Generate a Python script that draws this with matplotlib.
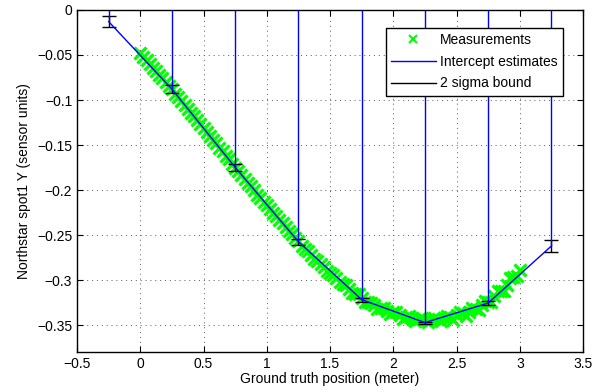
import matplotlib
matplotlib.use("Agg")
import matplotlib.pyplot as plt
from matplotlib.lines import Line2D

plt.rcParams["font.family"] = ["Liberation Sans", "DejaVu Sans"]
plt.rcParams["font.size"] = 10

# measurements (ground truth position vs. spot1 Y), two interleaved sweeps
meas_x = [0.00, 0.05, 0.10, 0.15, 0.20, 0.25, 0.30, 0.35, 0.40, 0.45,
          0.50, 0.55, 0.60, 0.65, 0.70, 0.75, 0.80, 0.85, 0.90, 0.95,
          1.00, 1.05, 1.10, 1.15, 1.20, 1.25, 1.30, 1.35, 1.40, 1.45,
          1.50, 1.55, 1.60, 1.65, 1.70, 1.75, 1.80, 1.85, 1.90, 1.95,
          2.00, 2.05, 2.10, 2.15, 2.20, 2.25, 2.30, 2.35, 2.40, 2.45,
          2.50, 2.55, 2.60, 2.65, 2.70, 2.75, 2.80, 2.85, 2.90, 2.95, 3.00]
meas_y = [-0.048, -0.056, -0.064, -0.072, -0.080, -0.088, -0.097, -0.105, -0.114, -0.122,
          -0.131, -0.140, -0.148, -0.157, -0.166, -0.175, -0.183, -0.192, -0.200, -0.209,
          -0.217, -0.225, -0.233, -0.241, -0.249, -0.257, -0.265, -0.272, -0.279, -0.286,
          -0.292, -0.298, -0.304, -0.310, -0.315, -0.320, -0.324, -0.328, -0.331, -0.334,
          -0.336, -0.339, -0.341, -0.342, -0.343, -0.344, -0.344, -0.343, -0.342, -0.341,
          -0.339, -0.337, -0.335, -0.332, -0.328, -0.324, -0.318, -0.312, -0.305, -0.297, -0.289]
meas2_x = [0.025, 0.075, 0.125, 0.175, 0.225, 0.275, 0.325, 0.375, 0.425, 0.475,
           0.525, 0.575, 0.625, 0.675, 0.725, 0.775, 0.825, 0.875, 0.925, 0.975,
           1.025, 1.075, 1.125, 1.175, 1.225, 1.275, 1.325, 1.375, 1.425, 1.475,
           1.525, 1.575, 1.625, 1.675, 1.725, 1.775, 1.825, 1.875, 1.925, 1.975,
           2.025, 2.075, 2.125, 2.175, 2.225, 2.275, 2.325, 2.375, 2.425, 2.475,
           2.525, 2.575, 2.625, 2.675, 2.725, 2.775, 2.825, 2.875, 2.925, 2.975]
meas2_y = [-0.052, -0.060, -0.068, -0.076, -0.084, -0.093, -0.101, -0.110, -0.118, -0.127,
           -0.136, -0.144, -0.153, -0.162, -0.171, -0.179, -0.188, -0.196, -0.205, -0.213,
           -0.221, -0.229, -0.237, -0.245, -0.253, -0.262, -0.268, -0.277, -0.282, -0.290,
           -0.294, -0.302, -0.306, -0.314, -0.316, -0.324, -0.325, -0.332, -0.331, -0.338,
           -0.336, -0.343, -0.340, -0.346, -0.342, -0.347, -0.342, -0.346, -0.340, -0.344,
           -0.336, -0.340, -0.331, -0.333, -0.323, -0.324, -0.312, -0.312, -0.298, -0.296]

# intercept estimates and 2 sigma half-widths
est_x = [-0.25, 0.25, 0.75, 1.25, 1.75, 2.25, 2.75, 3.25]
est_y = [-0.0129, -0.0879, -0.1748, -0.2574, -0.3218, -0.3473, -0.3256, -0.2622]
est_2sig = [0.0061, 0.0044, 0.0041, 0.0032, 0.0022, 0.0011, 0.0022, 0.0069]

fig = plt.figure(figsize=(5.98, 3.92), dpi=100)
ax = fig.add_axes([0.1288, 0.102, 0.8462, 0.8725])

green = (0, 1, 0)
for mx, my in ((meas_x, meas_y), (meas2_x, meas2_y)):
    ax.plot(mx, my, linestyle="none", marker="x", color=green,
            markersize=8, markeredgewidth=2.3, zorder=2)
ax.errorbar(est_x, est_y, yerr=est_2sig, fmt="none", ecolor="k",
            elinewidth=1.0, capsize=4.7, capthick=1.0, zorder=3)
ax.plot(est_x, est_y, color="b", lw=1.0, zorder=4)
ax.vlines(est_x, est_y, 0, color="b", lw=1.0, zorder=4)

ax.set_xlim(-0.5, 3.5)
ax.set_ylim(-0.38, 0)
ax.set_xticks([-0.5, 0, 0.5, 1, 1.5, 2, 2.5, 3, 3.5])
ax.set_xticklabels(["\u22120.5", "0", "0.5", "1", "1.5", "2", "2.5", "3", "3.5"])
ax.set_yticks([-0.35, -0.3, -0.25, -0.2, -0.15, -0.1, -0.05, 0])
ax.set_yticklabels(["\u22120.35", "\u22120.3", "\u22120.25", "\u22120.2",
                    "\u22120.15", "\u22120.1", "\u22120.05", "0"])
ax.tick_params(direction="in", top=True, right=True, length=4, width=0.8, labelsize=10)
ax.grid(True, linestyle=(0, (1, 4)), color="0.35", lw=0.7)
for s in ax.spines.values():
    s.set_linewidth(1.0)

ax.set_xlabel("Ground truth position (meter)", labelpad=1)
ax.set_ylabel("Northstar spot1 Y (sensor units)", labelpad=4)

handles = [
    Line2D([], [], linestyle="none", marker="x", color=green, markersize=6, markeredgewidth=1.5),
    Line2D([], [], color="b", lw=1.0),
    Line2D([], [], color="k", lw=1.0),
]
leg = ax.legend(handles, ["Measurements", "Intercept estimates", "2 sigma bound"],
                loc="upper right", bbox_to_anchor=(0.974, 0.969), fancybox=False,
                framealpha=1, edgecolor="k", handlelength=3.2, borderpad=0.4,
                labelspacing=0.55, handletextpad=0.3, fontsize=10)
leg.get_frame().set_linewidth(1.0)
leg.set_zorder(10)

fig.savefig("out.png", dpi=100)
